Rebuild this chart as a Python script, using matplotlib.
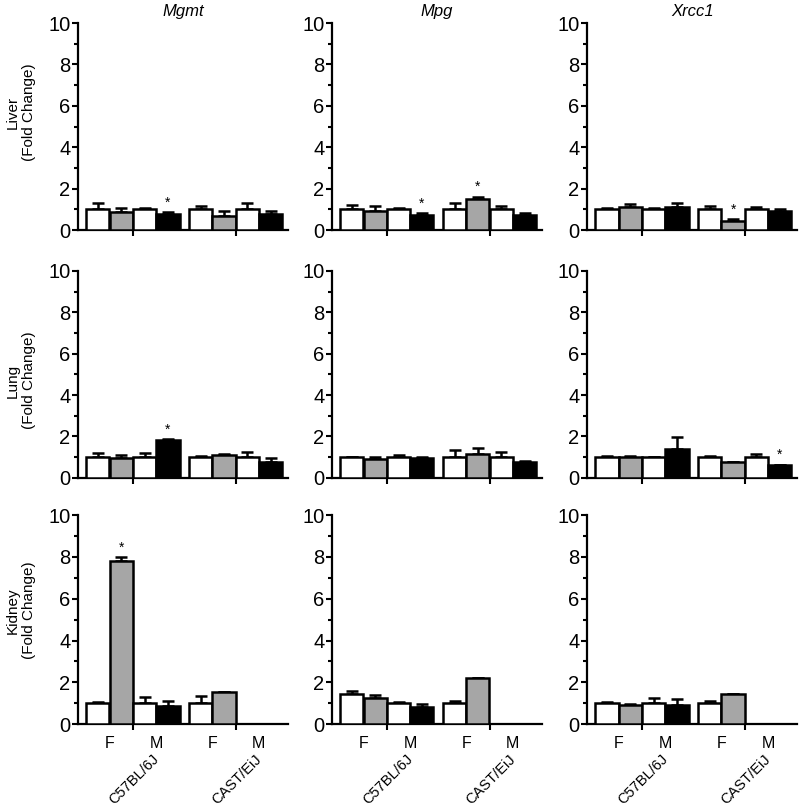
import numpy as np
import matplotlib
matplotlib.use('Agg')
import matplotlib.pyplot as plt
from matplotlib.ticker import MultipleLocator

plt.rcParams['font.family'] = ['Liberation Sans', 'DejaVu Sans']

genes = ['Mgmt', 'Mpg', 'Xrcc1']
tissues = ['Liver', 'Lung', 'Kidney']
strains = ['C57BL/6J', 'CAST/EiJ']
sexes = ['F', 'M']
nan = np.nan

# bar order in each panel: B6 F ctrl, B6 F treated, B6 M ctrl, B6 M treated,
#                          CAST F ctrl, CAST F treated, CAST M ctrl, CAST M treated
liver_means = [
    [1.0, 0.88, 1.0, 0.76, 1.0, 0.66, 1.0, 0.77],
    [1.0, 0.90, 1.0, 0.74, 1.0, 1.50, 1.0, 0.74],
    [1.0, 1.10, 1.0, 1.13, 1.0, 0.45, 1.0, 0.93],
]
liver_err = [
    [0.30, 0.17, 0.07, 0.10, 0.15, 0.26, 0.30, 0.16],
    [0.20, 0.25, 0.06, 0.08, 0.32, 0.12, 0.18, 0.08],
    [0.06, 0.17, 0.06, 0.16, 0.18, 0.09, 0.13, 0.07],
]
lung_means = [
    [1.0, 0.98, 1.0, 1.81, 1.0, 1.10, 1.0, 0.77],
    [1.0, 0.93, 1.0, 0.97, 1.0, 1.17, 1.0, 0.78],
    [1.0, 1.0, 1.0, 1.41, 1.0, 0.77, 1.0, 0.60],
]
lung_err = [
    [0.22, 0.11, 0.22, 0.08, 0.04, 0.07, 0.26, 0.19],
    [0.03, 0.08, 0.09, 0.03, 0.36, 0.27, 0.26, 0.05],
    [0.08, 0.04, 0.0, 0.56, 0.08, 0.0, 0.16, 0.04],
]
kidney_means = [
    [1.0, 7.80, 1.0, 0.85, 1.0, 1.56, nan, nan],
    [1.43, 1.23, 1.0, 0.83, 1.0, 2.23, nan, nan],
    [1.0, 0.93, 1.0, 0.93, 1.0, 1.46, nan, nan],
]
kidney_err = [
    [0.07, 0.20, 0.30, 0.28, 0.33, 0.0, nan, nan],
    [0.16, 0.16, 0.07, 0.15, 0.12, 0.0, nan, nan],
    [0.07, 0.03, 0.25, 0.25, 0.12, 0.0, nan, nan],
]
# significant bars: (tissue row, gene column, bar index)
stars = [(0, 0, 3), (0, 1, 3), (0, 1, 5), (0, 2, 5),
         (1, 0, 3), (1, 2, 7), (2, 0, 1)]

means = [liver_means, lung_means, kidney_means]
errs = [liver_err, lung_err, kidney_err]

bar_colors = ['white', '#a6a6a6', 'white', 'black'] * 2
xpos = np.array([0, 1, 2, 3, 4.4, 5.4, 6.4, 7.4])
strain_ticks = [1.5, 5.9]
sex_pos = [0.5, 2.5, 4.9, 6.9]

fig = plt.figure(figsize=(8, 8.1), dpi=100)
lefts = [0.0975, 0.415, 0.734]
width = 0.2625
bottoms = [0.716, 0.41, 0.106]
heights = [0.2556, 0.2556, 0.258]
ylab_y = [0.57, 0.47, 0.545]

for r in range(3):
    for c in range(3):
        ax = fig.add_axes([lefts[c], bottoms[r], width, heights[r]])
        m = np.array(means[r][c], dtype=float)
        e = np.array(errs[r][c], dtype=float)
        ok = ~np.isnan(m)
        ax.bar(xpos[ok], m[ok], width=1.0, color=np.array(bar_colors)[ok],
               edgecolor='black', linewidth=1.8, zorder=3)
        ax.errorbar(xpos[ok], m[ok], yerr=[np.zeros(ok.sum()), e[ok]], fmt='none',
                    ecolor='black', elinewidth=1.8, capsize=4.5, capthick=1.8, zorder=2)
        for (sr, sc, si) in stars:
            if sr == r and sc == c:
                ax.text(xpos[si], m[si] + e[si] + 0.12, '*', ha='center', va='bottom',
                        fontsize=10)
        ax.set_xlim(-0.85, 8.15)
        ax.set_ylim(0, 10)
        ax.spines['top'].set_visible(False)
        ax.spines['right'].set_visible(False)
        ax.spines['left'].set_linewidth(1.6)
        ax.spines['bottom'].set_linewidth(1.6)
        ax.yaxis.set_major_locator(MultipleLocator(2))
        ax.yaxis.set_minor_locator(MultipleLocator(1))
        ax.tick_params(axis='y', which='major', length=4.5, width=1.5, labelsize=14.5, pad=1)
        ax.tick_params(axis='y', which='minor', length=3, width=1.5)
        ax.set_xticks(strain_ticks)
        ax.set_xticklabels([])
        ax.tick_params(axis='x', length=4.5, width=1.5)
        if r == 0:
            ax.set_title(genes[c], fontsize=12, style='italic', pad=5)
        if c == 0:
            ax.set_ylabel(tissues[r] + '\n(Fold Change)', fontsize=11)
            ax.yaxis.set_label_coords(-0.2, ylab_y[r])
        if r == 2:
            for i, p in enumerate(sex_pos):
                ax.text(p, -0.55, sexes[i % 2], ha='center', va='top', fontsize=11.5)
            for i, t in enumerate(strain_ticks):
                ax.text(t + 0.8, -1.35, strains[i], ha='right', va='top', fontsize=10.5,
                        rotation=45, rotation_mode='anchor')

fig.savefig('out.png', dpi=100)
